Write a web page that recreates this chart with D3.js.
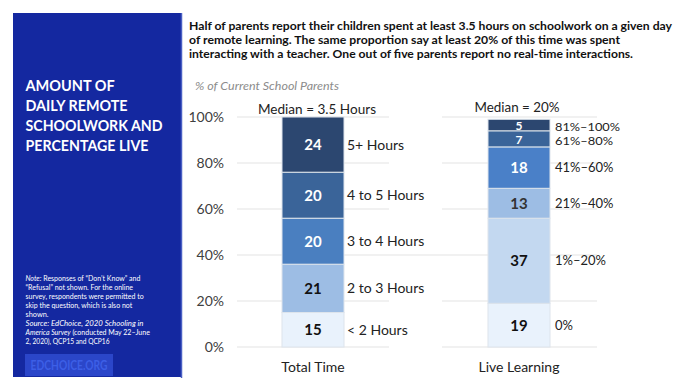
<!DOCTYPE html>
<html>
<head>
<meta charset="utf-8">
<script src="https://cdn.jsdelivr.net/npm/d3@7"></script>
<style>
  body { margin: 0; background: #fff; }
  svg { display: block; font-family: Lato, "Open Sans", sans-serif; }
</style>
</head>
<body>
<div id="chart"></div>
<script>
// data
const barNames = ["Total Time", "Live Learning"];
const medians = ["Median = 3.5 Hours", "Median = 20%"];
const totalCats = ["< 2 Hours", "2 to 3 Hours", "3 to 4 Hours", "4 to 5 Hours", "5+ Hours"];
const totalVals = [15, 21, 20, 20, 24];
const liveCats = ["0%", "1%–20%", "21%–40%", "41%–60%", "61%–80%", "81%–100%"];
const liveVals = [19, 37, 13, 18, 7, 5];
const yTicks = [0, 20, 40, 60, 80, 100];

const headerLines = [
    "Half of parents report their children spent at least 3.5 hours on schoolwork on a given day",
    "of remote learning. The same proportion say at least 20% of this time was spent",
    "interacting with a teacher. One out of five parents report no real-time interactions."
];
const titleLines = ["AMOUNT OF", "DAILY REMOTE", "SCHOOLWORK AND", "PERCENTAGE LIVE"];

const totalColors = ["#e9f2fc", "#9dbde4", "#4a7fc0", "#3a6499", "#2c4770"];
const totalText = ["#111", "#111", "#fff", "#fff", "#fff"];
const liveColors = ["#e9f2fc", "#c3d8f0", "#9dbde4", "#4a80c8", "#3a6499", "#2c4770"];
const liveText = ["#111", "#111", "#333", "#fff", "#fff", "#fff"];

const width = 686, height = 389;

const svg = d3.select("#chart").append("svg")
    .attr("width", width)
    .attr("height", height);

// stretch/squeeze a text to the width it has in the original
function stretch(sel, w) {
    sel.each(function () {
        const len = this.getComputedTextLength();
        if (Math.abs(len - w) > 1) {
            d3.select(this).attr("textLength", w).attr("lengthAdjust", "spacingAndGlyphs");
        }
    });
}

// left blue panel
svg.append("rect")
    .attr("x", 13).attr("y", 13)
    .attr("width", 168).attr("height", 364)
    .attr("fill", "#1428a0");
svg.append("line")
    .attr("x1", 181.5).attr("x2", 181.5)
    .attr("y1", 13).attr("y2", 378)
    .attr("stroke", "#4a5fc4").attr("stroke-width", 1.5);

const titleWidths = [89, 102, 137, 123];
titleLines.forEach((t, i) => {
    svg.append("text")
        .attr("x", 25.5).attr("y", 90.5 + i * 20.2)
        .attr("fill", "#fff")
        .style("font-size", "14.5px")
        .style("font-weight", "bold")
        .text(t)
        .call(stretch, titleWidths[i]);
});

// note / source block
const note = svg.append("g").attr("fill", "#fff");
const noteLines = [
    [["Note:", true], [" Responses of \u201CDon\u2019t Know\u201D and", false]],
    [["\u201CRefusal\u201D not shown. For the online", false]],
    [["survey, respondents were permitted to", false]],
    [["skip the question, which is also not", false]],
    [["shown.", false]],
    [["Source:", true], [" EdChoice, ", true], ["2020 Schooling in", true]],
    [["America Survey", true], [" (conducted May 22\u2013June", false]],
    [["2, 2020), QCP15 and QCP16", false]]
];
const noteWidths = [114, 108, 118, 106, 23, 118, 125, 84];
noteLines.forEach((parts, i) => {
    const t = note.append("text").attr("x", 25.5).attr("y", 281 + i * 9)
        .style("font-size", "7px");
    parts.forEach(p => {
        t.append("tspan").text(p[0]).style("font-style", p[1] ? "italic" : "normal");
    });
    stretch(t, noteWidths[i]);
});

svg.append("rect")
    .attr("x", 25).attr("y", 354)
    .attr("width", 88).attr("height", 22)
    .attr("fill", "#2b46c9");
svg.append("text")
    .attr("x", 69).attr("y", 370)
    .attr("text-anchor", "middle")
    .attr("fill", "#3d5fe6")
    .style("font-size", "14px")
    .style("font-weight", "bold")
    .text("EDCHOICE.ORG")
    .call(stretch, 77);

// header
const headerWidths = [483, 431, 444];
headerLines.forEach((t, i) => {
    svg.append("text")
        .attr("x", 189).attr("y", 29.5 + i * 14.4)
        .attr("fill", "#111")
        .style("font-size", "12px")
        .style("font-weight", "bold")
        .text(t)
        .call(stretch, headerWidths[i]);
});

svg.append("text")
    .attr("x", 195).attr("y", 90)
    .attr("fill", "#8c8c8c")
    .style("font-size", "11px")
    .style("font-style", "italic")
    .text("% of Current School Parents")
    .call(stretch, 144);

// scales
const y = d3.scaleLinear().domain([0, 100]).range([347, 117]);
const x = d3.scalePoint().domain(barNames).range([313, 519]);
const barW = 62;

// gridlines (two panels, the 40% line runs across both)
const grid = svg.append("g").attr("stroke", "#e3e3e3").attr("stroke-width", 1);
yTicks.forEach(t => {
    if (t === 40) {
        grid.append("line").attr("x1", 237).attr("x2", 597)
            .attr("y1", y(t)).attr("y2", y(t));
    } else {
        grid.append("line").attr("x1", 237).attr("x2", 389)
            .attr("y1", y(t)).attr("y2", y(t));
        grid.append("line").attr("x1", 442).attr("x2", 597)
            .attr("y1", y(t)).attr("y2", y(t));
    }
});

// y axis labels
const yAxis = svg.append("g")
    .attr("transform", "translate(224,0)")
    .call(d3.axisLeft(y).tickValues(yTicks).tickFormat(d => d + "%").tickSize(0).tickPadding(0));
yAxis.select(".domain").remove();
yAxis.selectAll("text")
    .attr("fill", "#404040")
    .style("font-size", "14px")
    .style("font-family", "Lato, sans-serif");

function stack(name, cats, vals, colors, textColors, labelX, labelSize) {
    let acc = 0;
    const segs = vals.map((v, i) => {
        const s = { cat: cats[i], v, y0: acc, y1: acc + v, fill: colors[i], tc: textColors[i] };
        acc += v;
        return s;
    });
    const g = svg.append("g");
    const cx = x(name);

    g.selectAll("rect").data(segs).join("rect")
        .attr("x", cx - barW / 2)
        .attr("width", barW)
        .attr("y", d => y(d.y1))
        .attr("height", d => y(d.y0) - y(d.y1))
        .attr("fill", d => d.fill)
        .attr("stroke", "#dde4ec")
        .attr("stroke-width", 1);

    g.selectAll(".val").data(segs).join("text")
        .attr("class", "val")
        .attr("x", cx)
        .attr("y", d => (y(d.y0) + y(d.y1)) / 2)
        .attr("dy", "0.36em")
        .attr("text-anchor", "middle")
        .attr("fill", d => d.tc)
        .style("font-size", "15px")
        .style("font-weight", "bold")
        .text(d => d.v);

    g.selectAll(".cat").data(segs).join("text")
        .attr("class", "cat")
        .attr("x", labelX)
        .attr("y", d => (y(d.y0) + y(d.y1)) / 2)
        .attr("dy", "0.36em")
        .attr("fill", "#222")
        .style("font-size", labelSize)
        .text(d => d.cat);

    svg.append("text")
        .attr("x", cx).attr("y", 367)
        .attr("dy", "0.36em")
        .attr("text-anchor", "middle")
        .attr("fill", "#222")
        .style("font-size", "14px")
        .text(name);

    return g;
}

stack(barNames[0], totalCats, totalVals, totalColors, totalText, 347, "14px");
const live = stack(barNames[1], liveCats, liveVals, liveColors, liveText, 555, "13px");
// the two thin top slices: smaller labels, nudged like in the original
live.selectAll(".cat").filter(d => d.v < 10)
    .style("font-size", "11.5px")
    .attr("y", d => (y(d.y0) + y(d.y1)) / 2 + (d.v === 5 ? 1.5 : 2))
    .each(function (d) { stretch(d3.select(this), d.v === 5 ? 65 : 58); });
live.selectAll(".val").filter(d => d.v < 10)
    .style("font-size", "12px")
    .attr("y", d => (y(d.y0) + y(d.y1)) / 2 + 0.5);

svg.append("text")
    .attr("x", x(barNames[0]) + 4).attr("y", 109)
    .attr("dy", "0.36em")
    .attr("text-anchor", "middle")
    .attr("fill", "#222")
    .style("font-size", "14px")
    .text(medians[0])
    .call(stretch, 118);
svg.append("text")
    .attr("x", x(barNames[1]) - 2).attr("y", 107)
    .attr("dy", "0.36em")
    .attr("text-anchor", "middle")
    .attr("fill", "#222")
    .style("font-size", "14px")
    .text(medians[1])
    .call(stretch, 85);
</script>
</body>
</html>
